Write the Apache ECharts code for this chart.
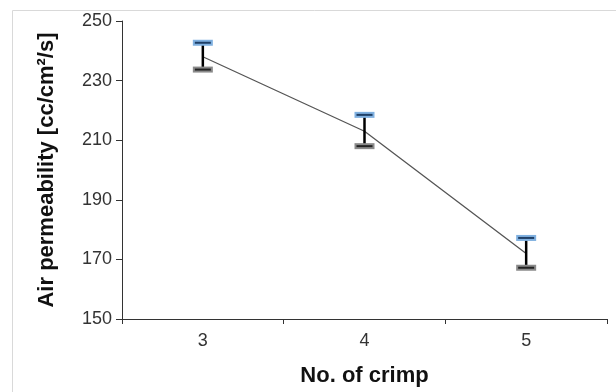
<!DOCTYPE html>
<html><head><meta charset="utf-8">
<script src="https://cdn.jsdelivr.net/npm/echarts@6/dist/echarts.min.js"></script>
<style>html,body{margin:0;padding:0;background:#fff}#c{width:616px;height:392px}</style>
</head><body><div id="c"></div>
<script>
const categories = ['3', '4', '5'];
const meanValues = [238, 213, 172];
const upperValues = [242.7, 218.5, 177.2];
const lowerValues = [233.7, 208, 167.2];
const yTicks = [150, 170, 190, 210, 230, 250];

const chart = echarts.init(document.getElementById('c'));
const errData = categories.map((c, i) => [i, lowerValues[i], upperValues[i]]);

chart.setOption({
  animation: false,
  graphic: [{type: 'rect', shape: {x: 12.5, y: 10.5, width: 610, height: 390}, style: {fill: 'none', stroke: '#d9d9d9', lineWidth: 1}, silent: true}],
  grid: {left: 122, right: 9, top: 21, bottom: 73},
  xAxis: {
    type: 'category', data: categories, boundaryGap: true,
    name: 'No. of crimp', nameLocation: 'middle', nameGap: 46,
    nameTextStyle: {fontFamily: 'Liberation Sans', fontWeight: 'bold', fontSize: 22, color: '#111'},
    axisLine: {lineStyle: {color: '#333', width: 1}},
    axisTick: {show: true, length: 5, lineStyle: {color: '#333'}},
    axisLabel: {fontFamily: 'Liberation Sans', fontSize: 18, color: '#333', margin: 13}
  },
  yAxis: {
    type: 'value', min: 150, max: 250, interval: 20,
    name: 'Air permeability [cc/cm²/s]', nameLocation: 'middle', nameGap: 64,
    nameTextStyle: {fontFamily: 'Liberation Sans', fontWeight: 'bold', fontSize: 22, color: '#111'},
    axisLine: {show: true, lineStyle: {color: '#333', width: 1}},
    axisTick: {show: true, length: 6, lineStyle: {color: '#333'}},
    splitLine: {show: false},
    axisLabel: {fontFamily: 'Liberation Sans', fontSize: 18, color: '#333', margin: 10,
      formatter: v => yTicks.includes(v) ? String(v) : ''}
  },
  series: [
    {
      type: 'line', data: meanValues, symbol: 'none',
      lineStyle: {color: '#555', width: 1.3}, z: 2
    },
    {
      type: 'custom', data: errData, z: 3,
      renderItem: function (params, api) {
        const x = api.value(0);
        const lo = api.coord([x, api.value(1)]);
        const hi = api.coord([x, api.value(2)]);
        const w = 20;
        return {
          type: 'group',
          children: [
            {type: 'line', shape: {x1: lo[0], y1: lo[1], x2: hi[0], y2: hi[1]}, style: {stroke: '#000', lineWidth: 2.5}},
            {type: 'rect', shape: {x: hi[0] - w / 2, y: hi[1] - 3, width: w, height: 6}, style: {fill: '#7fb0e0', stroke: null}},
            {type: 'line', shape: {x1: hi[0] - w / 2 + 2, y1: hi[1], x2: hi[0] + w / 2 - 2, y2: hi[1]}, style: {stroke: '#1f3f66', lineWidth: 2}},
            {type: 'rect', shape: {x: lo[0] - w / 2, y: lo[1] - 3, width: w, height: 6}, style: {fill: '#8a8a8a', stroke: null}},
            {type: 'line', shape: {x1: lo[0] - w / 2 + 2, y1: lo[1], x2: lo[0] + w / 2 - 2, y2: lo[1]}, style: {stroke: '#222', lineWidth: 2}}
          ]
        };
      }
    }
  ]
});
</script></body></html>
